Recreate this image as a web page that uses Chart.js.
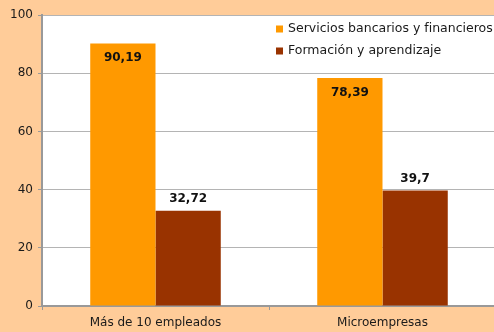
<!DOCTYPE html>
<html lang="es">

<head>
    <meta charset="UTF-8">
    <title>Uso de Internet por tipo de empresa</title>
    <style>
        html,
        body {
            margin: 0;
            padding: 0;
            background: #ffcc99;
            overflow: hidden;
        }

        #wrap {
            width: 494px;
            height: 332px;
            overflow: hidden;
        }
    </style>
</head>

<body>
    <div id="wrap">
        <!-- plot area runs past the right edge, so the canvas is a bit wider than the window -->
        <canvas id="usoChart" width="500" height="332"></canvas>
    </div>

    <script src="https://cdn.jsdelivr.net/npm/chart.js"></script>
    <script>
        const categorias = ['Más de 10 empleados', 'Microempresas'];
        const servicios = [90.19, 78.39];
        const formacion = [32.72, 39.7];
        const etiquetasServicios = ['90,19', '78,39'];
        const etiquetasFormacion = ['32,72', '39,7'];

        const FONT = 'DejaVu Sans, Verdana, sans-serif';

        // white plot area behind the bars
        const plotBackground = {
            id: 'plotBackground',
            beforeDraw(chart) {
                const { ctx, chartArea: a } = chart;
                ctx.save();
                ctx.fillStyle = '#ffffff';
                ctx.fillRect(a.left, a.top, chart.width - a.left, a.bottom - a.top);
                ctx.restore();
            }
        };

        // value labels: inside the top of orange bars, above the dark ones
        const valueLabels = {
            id: 'valueLabels',
            afterDatasetsDraw(chart) {
                const ctx = chart.ctx;
                ctx.save();
                ctx.font = 'bold 12px ' + FONT;
                ctx.textAlign = 'center';
                ctx.textBaseline = 'middle';
                chart.data.datasets.forEach((ds, i) => {
                    chart.getDatasetMeta(i).data.forEach((bar, j) => {
                        const txt = ds.etiquetas[j];
                        let y;
                        if (ds.dentro) {
                            y = bar.y + 14;
                        } else {
                            y = bar.y - 12;
                            const w = ctx.measureText(txt).width + 8;
                            ctx.fillStyle = '#ffffff';
                            ctx.fillRect(bar.x - w / 2, y - 7, w, 14);
                        }
                        ctx.fillStyle = '#111111';
                        ctx.fillText(txt, bar.x, y + 0.5);
                    });
                });
                ctx.restore();
            }
        };

        const legendBox = {
            id: 'legendBox',
            afterDraw(chart) {
                const ctx = chart.ctx;
                ctx.save();
                ctx.font = '12.5px ' + FONT;
                ctx.textBaseline = 'middle';
                chart.data.datasets.forEach((ds, i) => {
                    const y = 29 + i * 22;
                    ctx.fillStyle = ds.backgroundColor;
                    ctx.fillRect(276, y - 3.5, 7, 7);
                    ctx.fillStyle = '#1a1a1a';
                    ctx.fillText(ds.label, 288, y);
                });
                ctx.restore();
            }
        };

        new Chart(document.getElementById('usoChart'), {
            type: 'bar',
            data: {
                labels: categorias,
                datasets: [{
                    label: 'Servicios bancarios y financieros',
                    data: servicios,
                    etiquetas: etiquetasServicios,
                    dentro: true,
                    backgroundColor: '#ff9900'
                }, {
                    label: 'Formación y aprendizaje',
                    data: formacion,
                    etiquetas: etiquetasFormacion,
                    dentro: false,
                    backgroundColor: '#993300'
                }]
            },
            options: {
                responsive: false,
                animation: false,
                categoryPercentage: 0.575,
                barPercentage: 1,
                layout: {
                    padding: { top: 15, right: 4, left: 0, bottom: 0 }
                },
                scales: {
                    x: {
                        afterFit(scale) { scale.height = 26; },
                        grid: {
                            drawOnChartArea: false,
                            tickLength: 4,
                            color: '#999999',
                            offset: true
                        },
                        border: { color: '#999999', width: 2 },
                        ticks: {
                            color: '#1a1a1a',
                            padding: 6,
                            font: { family: FONT, size: 12 }
                        }
                    },
                    y: {
                        min: 0,
                        max: 100,
                        afterFit(scale) { scale.width = 42; },
                        ticks: {
                            stepSize: 20,
                            color: '#1a1a1a',
                            padding: 5,
                            font: { family: FONT, size: 12 }
                        },
                        grid: {
                            color: '#b4b4b4',
                            tickLength: 4,
                            tickColor: '#999999'
                        },
                        border: { color: '#999999', width: 2 }
                    }
                },
                plugins: {
                    legend: { display: false },
                    tooltip: { enabled: false }
                }
            },
            plugins: [plotBackground, valueLabels, legendBox]
        });
    </script>
</body>

</html>
